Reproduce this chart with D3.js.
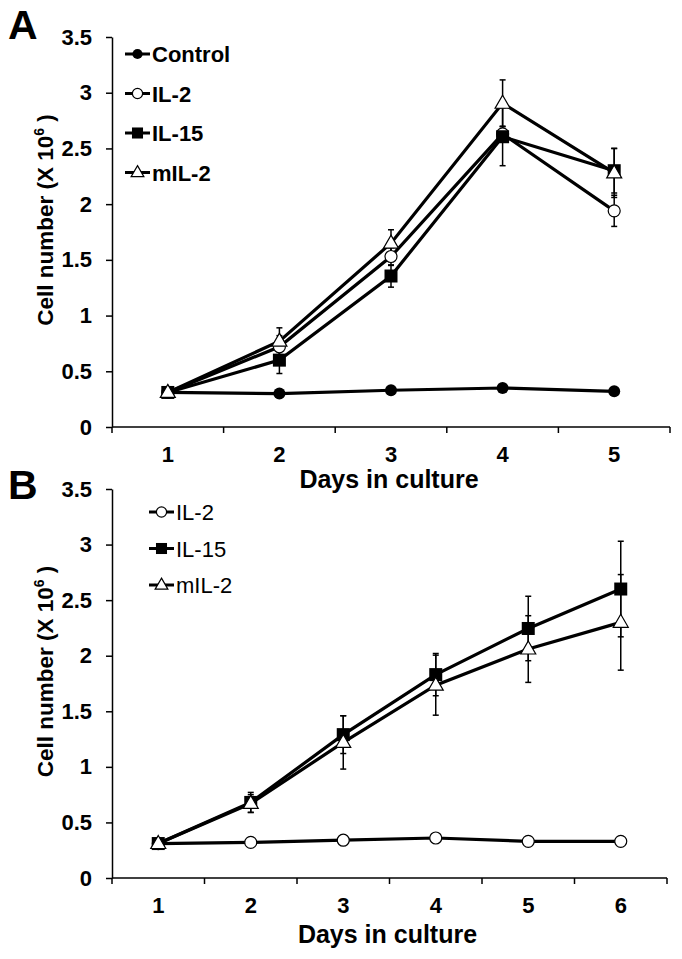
<!DOCTYPE html>
<html><head><meta charset="utf-8">
<script src="https://cdn.jsdelivr.net/npm/d3@7"></script>
<style>body{margin:0;background:#fff}svg{display:block}text{font-family:"Liberation Sans",Arial,sans-serif}</style>
</head><body><svg id="c" width="682" height="959"></svg>
<script>
// Panel A
const daysA = [1,2,3,4,5];
const controlA = [0.31,0.30,0.33,0.35,0.32];
const controlErrA = [0.01,0.01,0.01,0.01,0.01];
const il2A = [0.31,0.72,1.53,2.63,1.94];
const il2ErrA = [0.01,0.10,0.08,0.07,0.14];
const il15A = [0.31,0.60,1.355,2.605,2.30];
const il15ErrA = [0.01,0.12,0.10,0.26,0.20];
const mil2A = [0.31,0.77,1.65,2.905,2.28];
const mil2ErrA = [0.01,0.12,0.12,0.21,0.22];
// Panel B
const daysB = [1,2,3,4,5,6];
const il2B = [0.31,0.32,0.34,0.36,0.33,0.33];
const il2ErrB = [0.01,0.01,0.01,0.01,0.01,0.01];
const il15B = [0.31,0.68,1.29,1.83,2.245,2.60];
const il15ErrB = [0.02,0.09,0.17,0.19,0.29,0.43];
const mil2B = [0.31,0.67,1.22,1.735,2.06,2.30];
const mil2ErrB = [0.02,0.08,0.24,0.27,0.30,0.43];
const yTicks = [0,0.5,1,1.5,2,2.5,3,3.5];

const svg = d3.select("#c");

function marker(g, type, x, y, s) {
  if (type === "dot") g.append("circle").attr("cx",x).attr("cy",y).attr("r",6*s).attr("fill","#000");
  else if (type === "circle") g.append("circle").attr("cx",x).attr("cy",y).attr("r",6*s).attr("fill","#fff").attr("stroke","#000").attr("stroke-width",1.2);
  else if (type === "square") g.append("rect").attr("x",x-6.5*s).attr("y",y-6.5*s).attr("width",13*s).attr("height",13*s).attr("fill","#000");
  else if (type === "tri") {
    const h = 13*s, w = 15*s;
    g.append("path").attr("d",`M${x},${y-h*0.62}L${x+w/2},${y+h*0.38}L${x-w/2},${y+h*0.38}Z`).attr("fill","#fff").attr("stroke","#000").attr("stroke-width",1.2);
  }
}

function panel(opt) {
  const {days, series, left, right, top, bottom, letter, letterY, legend, titleOff} = opt;
  const g = svg.append("g");
  const x = d3.scaleBand().domain(days).range([left,right]);
  const y = d3.scaleLinear().domain([0,3.5]).range([bottom,top]);
  const ax = g.append("g").attr("transform",`translate(0,${bottom})`)
    .call(d3.axisBottom(x).tickSize(0).tickPadding(19));
  ax.select(".domain").remove();
  ax.selectAll("text").attr("font-size",22).attr("font-weight","bold").attr("fill","#000");
  const bounds = days.map(d=>x(d)).concat([right]);
  g.selectAll(null).data(bounds).enter().append("line")
    .attr("x1",d=>d).attr("x2",d=>d).attr("y1",bottom).attr("y2",bottom+6).attr("stroke","#000").attr("stroke-width",1.5);
  g.append("line").attr("x1",left).attr("x2",right).attr("y1",bottom).attr("y2",bottom).attr("stroke","#000").attr("stroke-width",1.5);
  const ay = g.append("g").attr("transform",`translate(${left},0)`)
    .call(d3.axisLeft(y).tickValues(yTicks).tickFormat(d3.format("")).tickSize(6).tickSizeOuter(0).tickPadding(14));
  ay.select(".domain").attr("stroke-width",1.5);
  ay.selectAll(".tick line").attr("stroke-width",1.5);
  ay.selectAll("text").attr("font-size",22).attr("font-weight","bold").attr("fill","#000");
  g.append("text").attr("x",(left+right)/2 - 2).attr("y",bottom+titleOff).attr("text-anchor","middle")
    .attr("font-size",25).attr("font-weight","bold").text("Days in culture");
  const yt = g.append("text").attr("transform",`translate(53,${(top+bottom)/2 - 12}) rotate(-90)`).attr("text-anchor","middle")
    .attr("font-size",22.5).attr("font-weight","bold");
  yt.append("tspan").text("Cell number (X 10");
  yt.append("tspan").attr("font-size",14).attr("dy",-9).text("6");
  yt.append("tspan").attr("dy",9).text(" )");
  g.append("text").attr("x",8).attr("y",letterY).attr("font-size",41).attr("font-weight","bold").text(letter);
  const cx = d => x(d) + x.bandwidth()/2;
  series.forEach(s => {
    const pts = days.map((d,i)=>({d, v:s.values[i], e:s.err[i]}));
    pts.forEach(p => {
      if (p.e < 0.03) return;
      const X = cx(p.d);
      g.append("line").attr("x1",X).attr("x2",X).attr("y1",y(p.v-p.e)).attr("y2",y(p.v+p.e)).attr("stroke","#000").attr("stroke-width",1.5);
      [p.v-p.e,p.v+p.e].forEach(v=>g.append("line").attr("x1",X-3).attr("x2",X+3).attr("y1",y(v)).attr("y2",y(v)).attr("stroke","#000").attr("stroke-width",1.5));
    });
    g.append("path").datum(pts).attr("fill","none").attr("stroke","#000").attr("stroke-width",3.2)
      .attr("d", d3.line().x(p=>cx(p.d)).y(p=>y(p.v)));
  });
  series.forEach(s => {
    days.forEach((d,i)=>marker(g, s.marker, cx(d), y(s.values[i]), 1));
  });
  legend.items.forEach((s,i) => {
    const ly = legend.y + i*legend.dy;
    g.append("line").attr("x1",legend.x).attr("x2",legend.x+25).attr("y1",ly).attr("y2",ly).attr("stroke","#000").attr("stroke-width",3);
    marker(g, s.marker, legend.x+12.5, ly, 0.85);
    g.append("text").attr("x",legend.x+27).attr("y",ly+8).attr("font-size",legend.fs).attr("font-weight",legend.fw).text(s.name);
  });
}

const seriesA = [
  {name:"Control", marker:"dot", values:controlA, err:controlErrA},
  {name:"IL-2", marker:"circle", values:il2A, err:il2ErrA},
  {name:"IL-15", marker:"square", values:il15A, err:il15ErrA},
  {name:"mIL-2", marker:"tri", values:mil2A, err:mil2ErrA}
];
const seriesB = [
  {name:"IL-2", marker:"circle", values:il2B, err:il2ErrB},
  {name:"IL-15", marker:"square", values:il15B, err:il15ErrB},
  {name:"mIL-2", marker:"tri", values:mil2B, err:mil2ErrB}
];
panel({days:daysA, series:seriesA, left:112, right:670, top:37, bottom:427, letter:"A", letterY:39, titleOff:61,
  legend:{items:seriesA, x:125, y:54, dy:39.5, fs:22, fw:"bold"}});
panel({days:daysB, series:seriesB, left:112, right:667, top:489, bottom:878, letter:"B", letterY:499, titleOff:65,
  legend:{items:seriesB, x:149, y:512, dy:36.5, fs:22, fw:"normal"}});
</script></body></html>
